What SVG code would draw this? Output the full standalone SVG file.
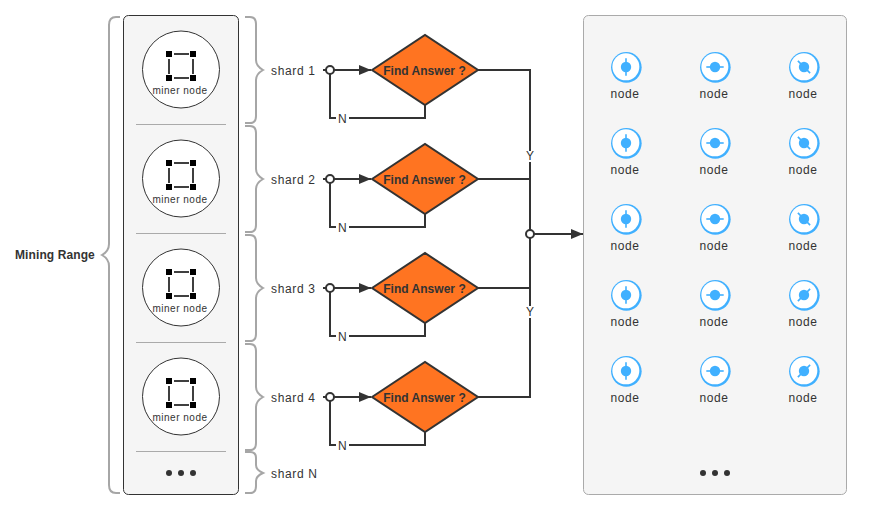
<svg xmlns="http://www.w3.org/2000/svg" width="880" height="510" viewBox="0 0 880 510">
<style>
text{font-family:"Liberation Sans",Arial,sans-serif;fill:#333}
.lab{font-size:12px;letter-spacing:.65px}
.mn{font-size:10px;letter-spacing:.5px;text-anchor:middle}
.nl{font-size:12px;letter-spacing:.55px;text-anchor:middle}
.fa{font-size:12px;font-weight:bold;text-anchor:middle;letter-spacing:.02px}
.panel{fill:#f5f5f5}
.brace{fill:none;stroke:#a6a6a6;stroke-width:2}
.sep{stroke:#aaa;stroke-width:1}
.c{fill:none;stroke:#333;stroke-width:2}
.dia{fill:#ff7421;stroke:#333;stroke-width:2}
.j{fill:#fff;stroke:#333;stroke-width:2}
.mc{fill:#fff;stroke:#333;stroke-width:1}
.ml{stroke:#000;stroke-width:1.5;fill:none}
.bl{stroke:#40b0ff;stroke-width:1.6}
.dot{fill:#40b0ff}
</style>
<defs>
<marker id="arr" markerUnits="userSpaceOnUse" markerWidth="13" markerHeight="10" refX="12" refY="5" orient="auto"><path d="M0 0L12 5L0 10Z" fill="#333"/></marker>
<g id="mico">
<path class="ml" d="M174 54H189M174 78H189M169 59V74M193 59V74"/>
<path d="M166 51h6v6h-6zM190 51h6v6h-6zM166 75h6v6h-6zM190 75h6v6h-6z" fill="#000"/>
</g>
<g id="ring">
<circle class="dot" cx=".35" cy=".35" r="15.300"/>
<circle cx="-.14" cy="-.14" r="13.500" fill="#fff"/>
</g>
<g id="nico">
<path class="bl" d="M0-8.700V8.700"/>
<circle class="dot" r="5.200"/>
</g>
<path id="br" class="brace" d="M245 17H250Q256 17 256 24V60Q256 66 263 70Q256 74 256 80V116Q256 123 250 123H245"/>
</defs>

<g id="mining-range">
<path class="brace" d="M120 17H116Q109 17 109 25V244Q109 251 102 255Q109 259 109 266V485Q109 493 116 493H120"/>
<text x="15" y="259" font-size="12" font-weight="bold" letter-spacing=".1">Mining Range</text>
</g>

<g id="miner-panel">
<rect class="panel" x="123.500" y="15.500" width="115" height="479" rx="5" stroke="#333" stroke-width="1"/>
<path class="sep" d="M136 124.500H226M136 233.500H226M136 342.500H226M136 451.500H226"/>
<g fill="#333"><circle cx="169" cy="473" r="3"/><circle cx="181" cy="473" r="3"/><circle cx="193" cy="473" r="3"/></g>
</g>
<g id="miner-1"><circle class="mc" cx="181" cy="69.500" r="38.500"/><use href="#mico"/><text class="mn" x="180" y="93.500">miner node</text></g>
<g id="miner-2"><circle class="mc" cx="181" cy="178.500" r="38.500"/><use href="#mico" y="109"/><text class="mn" x="180" y="202.500">miner node</text></g>
<g id="miner-3"><circle class="mc" cx="181" cy="287.500" r="38.500"/><use href="#mico" y="218"/><text class="mn" x="180" y="311.500">miner node</text></g>
<g id="miner-4"><circle class="mc" cx="181" cy="396.500" r="38.500"/><use href="#mico" y="327"/><text class="mn" x="180" y="420.500">miner node</text></g>

<g id="shard-1"><use href="#br"/><text class="lab" x="271" y="75">shard 1</text></g>
<g id="shard-2"><use href="#br" y="109"/><text class="lab" x="271" y="184">shard 2</text></g>
<g id="shard-3"><use href="#br" y="218"/><text class="lab" x="271" y="293">shard 3</text></g>
<g id="shard-4"><use href="#br" y="327"/><text class="lab" x="271" y="402">shard 4</text></g>
<g id="shard-n"><path class="brace" d="M245 452H250Q256 452 256 458V465Q256 470 263 473Q256 476 256 481V486Q256 493 250 493H245"/><text class="lab" x="271" y="478">shard N</text></g>

<g id="connectors">
<path class="c" d="M323 70H371" marker-end="url(#arr)"/>
<path class="c" d="M323 179H371" marker-end="url(#arr)"/>
<path class="c" d="M323 288H371" marker-end="url(#arr)"/>
<path class="c" d="M323 397H371" marker-end="url(#arr)"/>
<path class="c" d="M330 70V118H336M349 118H425V105"/>
<path class="c" d="M330 179V227H336M349 227H425V214"/>
<path class="c" d="M330 288V336H336M349 336H425V323"/>
<path class="c" d="M330 397V445H336M349 445H425V432"/>
<path class="c" d="M478 70H530V151M530 162V306M530 318V397H478"/>
<path class="c" d="M478 179H530M478 288H530"/>
<path class="c" d="M530 234H583" marker-end="url(#arr)"/>
<g>
<circle class="j" cx="330" cy="70" r="4"/><circle class="j" cx="330" cy="179" r="4"/><circle class="j" cx="330" cy="288" r="4"/><circle class="j" cx="330" cy="397" r="4"/><circle class="j" cx="530" cy="234" r="4"/>
</g>
<g>
<text class="lab" x="338" y="123">N</text><text class="lab" x="338" y="232">N</text><text class="lab" x="338" y="341">N</text><text class="lab" x="338" y="450">N</text>
<text class="lab" x="526" y="160">Y</text><text class="lab" x="526" y="316">Y</text>
</g>
</g>

<g id="decision-1"><path class="dia" d="M372 70L425 35L478 70L425 105Z"/><text class="fa" x="424.500" y="75">Find Answer ?</text></g>
<g id="decision-2"><path class="dia" d="M372 179L425 144L478 179L425 214Z"/><text class="fa" x="424.500" y="184">Find Answer ?</text></g>
<g id="decision-3"><path class="dia" d="M372 288L425 253L478 288L425 323Z"/><text class="fa" x="424.500" y="293">Find Answer ?</text></g>
<g id="decision-4"><path class="dia" d="M372 397L425 362L478 397L425 432Z"/><text class="fa" x="424.500" y="402">Find Answer ?</text></g>

<g id="node-panel">
<rect class="panel" x="583.500" y="15.500" width="263" height="479" rx="5" stroke="#aaa" stroke-width="1"/>
<g fill="#333"><circle cx="703" cy="473" r="3"/><circle cx="715" cy="473" r="3"/><circle cx="727" cy="473" r="3"/></g>
</g>

<g id="n11"><use href="#ring" x="626" y="67"/><use href="#nico" transform="translate(626 67)"/><text class="nl" x="625" y="98">node</text></g>
<g id="n12"><use href="#ring" x="715" y="67"/><use href="#nico" transform="translate(715 67) rotate(90)"/><text class="nl" x="714" y="98">node</text></g>
<g id="n13"><use href="#ring" x="804" y="67"/><use href="#nico" transform="translate(804 67) rotate(-45)"/><text class="nl" x="803" y="98">node</text></g>
<g id="n21"><use href="#ring" x="626" y="143"/><use href="#nico" transform="translate(626 143)"/><text class="nl" x="625" y="174">node</text></g>
<g id="n22"><use href="#ring" x="715" y="143"/><use href="#nico" transform="translate(715 143) rotate(90)"/><text class="nl" x="714" y="174">node</text></g>
<g id="n23"><use href="#ring" x="804" y="143"/><use href="#nico" transform="translate(804 143) rotate(-45)"/><text class="nl" x="803" y="174">node</text></g>
<g id="n31"><use href="#ring" x="626" y="219"/><use href="#nico" transform="translate(626 219)"/><text class="nl" x="625" y="250">node</text></g>
<g id="n32"><use href="#ring" x="715" y="219"/><use href="#nico" transform="translate(715 219) rotate(90)"/><text class="nl" x="714" y="250">node</text></g>
<g id="n33"><use href="#ring" x="804" y="219"/><use href="#nico" transform="translate(804 219) rotate(-45)"/><text class="nl" x="803" y="250">node</text></g>
<g id="n41"><use href="#ring" x="626" y="295"/><use href="#nico" transform="translate(626 295)"/><text class="nl" x="625" y="326">node</text></g>
<g id="n42"><use href="#ring" x="715" y="295"/><use href="#nico" transform="translate(715 295) rotate(90)"/><text class="nl" x="714" y="326">node</text></g>
<g id="n43"><use href="#ring" x="804" y="295"/><use href="#nico" transform="translate(804 295) rotate(45)"/><text class="nl" x="803" y="326">node</text></g>
<g id="n51"><use href="#ring" x="626" y="371"/><use href="#nico" transform="translate(626 371)"/><text class="nl" x="625" y="402">node</text></g>
<g id="n52"><use href="#ring" x="715" y="371"/><use href="#nico" transform="translate(715 371) rotate(90)"/><text class="nl" x="714" y="402">node</text></g>
<g id="n53"><use href="#ring" x="804" y="371"/><use href="#nico" transform="translate(804 371) rotate(45)"/><text class="nl" x="803" y="402">node</text></g>
</svg>
